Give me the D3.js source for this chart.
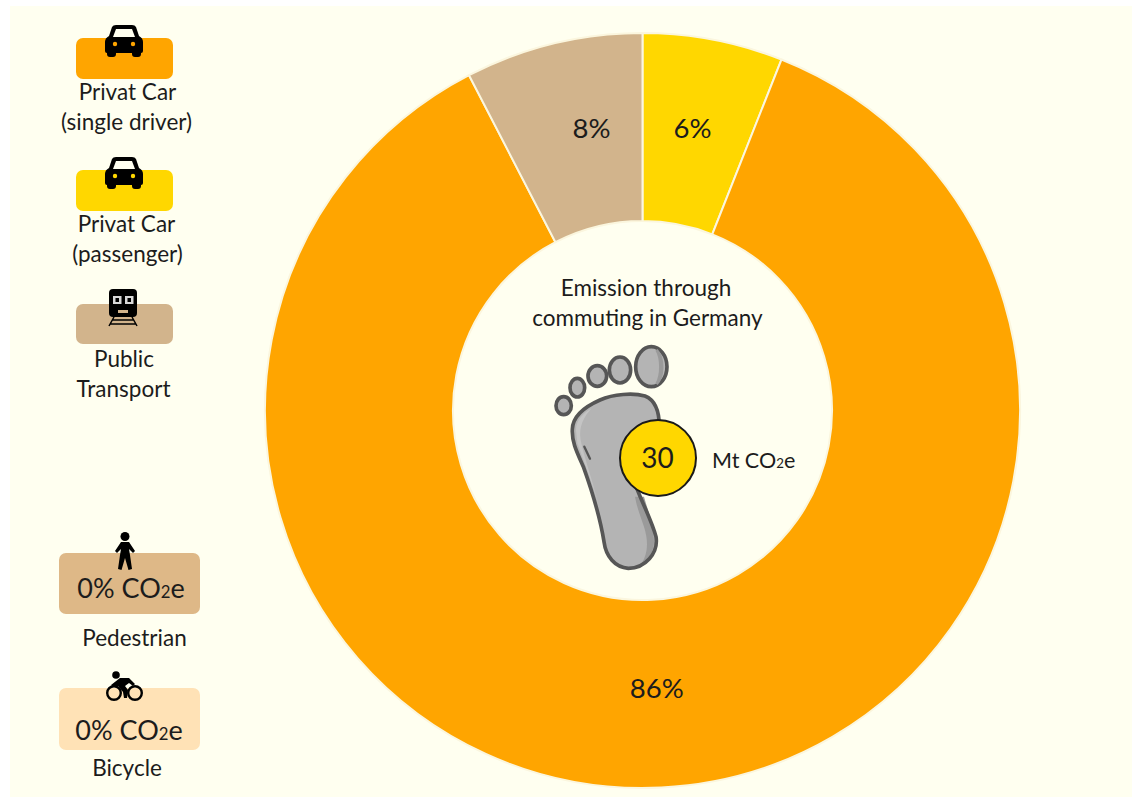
<!DOCTYPE html>
<html><head><meta charset="utf-8">
<script src="https://cdnjs.cloudflare.com/ajax/libs/d3/7.8.5/d3.min.js"></script>
<style>html,body{margin:0;padding:0;background:#fff}svg{display:block}text{font-family:Lato,"Open Sans",sans-serif;fill:#1c1c1c}</style>
</head><body><svg id="c" width="1132" height="797"></svg>
<script>
const segments = ["Privat Car (passenger)", "Privat Car (single driver)", "Public Transport"];
const shares = [6, 86.4, 7.6];
const colors = ["#FFD700", "#FFA500", "#D2B48C"];
const title = ["Emission through", "commuting in Germany"];
const total = 30;
const zeroModes = ["Pedestrian", "Bicycle"];
const zeroShares = [0, 0];

const svg = d3.select("#c");
svg.append("rect").attr("x",10).attr("y",6).attr("width",1122).attr("height",791).attr("fill","#FFFFF0");

// donut
const cx=642.5, cy=410.5, R=377.5, r=189.5;
const g = svg.append("g").attr("transform",`translate(${cx},${cy})`);
const pie = d3.pie().value(d=>d).sort(null);
const arc = d3.arc().innerRadius(r).outerRadius(R);
const arcs = pie(shares);
g.selectAll("path").data(arcs).join("path").attr("d",arc)
  .attr("fill",(d,i)=>colors[i]).attr("stroke","#FBF6DE").attr("stroke-width",2);
const labelNudge = [[-3,-5],[0,-6.5],[16,-8]];
g.selectAll("text").data(arcs).join("text")
  .attr("x",(d,i)=>arc.centroid(d)[0]+labelNudge[i][0])
  .attr("y",(d,i)=>arc.centroid(d)[1]+labelNudge[i][1])
  .attr("text-anchor","middle").attr("dominant-baseline","central")
  .attr("font-size",27.5).text(d=>Math.round(d.data)+"%");

// centre title
svg.append("g").selectAll("text").data(title).join("text")
  .attr("x",(d,i)=>i?647.5:646).attr("y",(d,i)=>296+i*30)
  .attr("text-anchor","middle").attr("font-size",22.5).text(d=>d);

// footprint
const footFill="#B4B4B4", footLine="#565656", footShade="#9A9A9A", footLight="#C4C4C4";
const foot = svg.append("g").attr("transform","translate(520,270) scale(0.3333)");
const toes=[[131,407,23,27],[172,353,22,28],[232,318,28,31],[300,300,32,39],[394,290,47,60]];
foot.selectAll("ellipse").data(toes).join("ellipse")
  .attr("cx",d=>d[0]).attr("cy",d=>d[1]).attr("rx",d=>d[2]).attr("ry",d=>d[3])
  .attr("fill",footFill).attr("stroke",footLine).attr("stroke-width",11);
foot.append("path").attr("d","M410,240 C432,265 432,320 410,342 C425,315 425,265 410,240 Z").attr("fill",footShade).attr("stroke",footShade).attr("stroke-width",8);
const soleD="M157,478 C158,440 190,412 240,390 C280,372 340,368 375,378 C405,390 418,420 418,470 L345,640 C362,690 395,750 408,800 C416,850 375,895 325,895 C285,892 258,860 252,815 C240,740 215,660 190,590 C170,545 155,515 157,478 Z";
foot.append("path").attr("d",soleD).attr("fill",footFill);
foot.append("path").attr("d","M372,680 C385,725 402,770 402,815 C402,845 385,870 365,880 C385,850 385,810 372,770 C360,735 350,710 345,680 Z").attr("fill",footShade);
foot.append("path").attr("d","M168,480 C168,450 190,430 215,415 C192,440 175,470 182,510 C192,560 220,640 240,720 C225,660 190,570 172,520 Z").attr("fill",footLight);
foot.append("path").attr("d",soleD).attr("fill","none").attr("stroke",footLine).attr("stroke-width",11).attr("stroke-linejoin","round");
foot.append("path").attr("d","M193,530 L210,566").attr("stroke",footLine).attr("stroke-width",7).attr("stroke-linecap","round");

svg.append("circle").attr("cx",658).attr("cy",458).attr("r",38)
  .attr("fill","#FFD700").attr("stroke","#1a1a1a").attr("stroke-width",2);
svg.append("text").attr("x",657.5).attr("y",468).attr("text-anchor","middle").attr("font-size",28).text(total);

function co2(sel,prefix,size){
  sel.append("tspan").text(prefix+"CO");
  sel.append("tspan").attr("font-size",size*0.62).text("2");
  sel.append("tspan").text("e");
}
co2(svg.append("text").attr("x",712).attr("y",468).attr("font-size",21.5),"Mt ",21.5);

// legend boxes
const boxes=[[76,38,97,41,colors[1]],[76,170,97,41,colors[0]],[76,304,97,40,colors[2]],[59,553,141,61,"#DEB887"],[59,688,141,62,"#FFE2B6"]];
svg.append("g").selectAll("rect").data(boxes).join("rect")
  .attr("x",d=>d[0]).attr("y",d=>d[1]).attr("width",d=>d[2]).attr("height",d=>d[3])
  .attr("rx",7).attr("fill",d=>d[4]);

// legend text
const legendLines=[["Privat Car",127.5,100],["(single driver)",126.5,130],["Privat Car",126.5,232],["(passenger)",127.5,262],["Public",124,367],["Transport",123.5,397],[zeroModes[0],134.5,646],[zeroModes[1],127,776]];
svg.append("g").selectAll("text").data(legendLines).join("text")
  .attr("x",d=>d[1]).attr("y",d=>d[2]).attr("text-anchor","middle").attr("font-size",22.5).text(d=>d[0]);
co2(svg.append("text").attr("x",131).attr("y",598).attr("text-anchor","middle").attr("font-size",27),zeroShares[0]+"% ",27);
co2(svg.append("text").attr("x",129).attr("y",740).attr("text-anchor","middle").attr("font-size",27),zeroShares[1]+"% ",27);

// car icons
function car(x,y,dot){
  const c=svg.append("g").attr("transform",`translate(${x},${y})`);
  c.append("path").attr("fill","#000").attr("d","M-12,-14 Q-11,-16 -8,-16 L8,-16 Q11,-16 12,-14 L15,-5 Q19,-3 19,1 L19,10 Q19,12 17,12 L17,13 Q17,16 14,16 L11,16 Q8,16 8,13 L8,12 L-8,12 L-8,13 Q-8,16 -11,16 L-14,16 Q-17,16 -17,13 L-17,12 Q-19,12 -19,10 L-19,1 Q-19,-3 -15,-5 Z");
  c.append("path").attr("fill","#FFFFF0").attr("d","M-8,-12 L8,-12 L11,-4 L-11,-4 Z");
  [-9,9].forEach(v=>c.append("circle").attr("cx",v).attr("cy",3).attr("r",2.2).attr("fill",dot));
}
car(124,41,colors[1]); car(124,173,colors[0]);

// train icon
const t=svg.append("g").attr("transform","translate(123,310)");
t.append("rect").attr("x",-14).attr("y",-21).attr("width",28).attr("height",28).attr("rx",4).attr("fill","#000");
[-10,2].forEach(v=>{t.append("rect").attr("x",v).attr("y",-14).attr("width",8.5).attr("height",8).attr("fill","#D9D9D9");
 t.append("rect").attr("x",v+2.5).attr("y",-12).attr("width",3.5).attr("height",4).attr("fill","#000");});
t.append("rect").attr("x",-5).attr("y",0).attr("width",10).attr("height",3).attr("fill","#D2B48C");
t.append("path").attr("d","M-9,7 L-14,16 M9,7 L14,16 M-11,10 L11,10 M-13,14 L13,14").attr("stroke","#000").attr("stroke-width",1.5).attr("fill","none");

// pedestrian icon
const p=svg.append("g").attr("transform","translate(125,551)");
p.append("circle").attr("cx",0).attr("cy",-14.5).attr("r",4.5).attr("fill","#000");
p.append("path").attr("fill","#000").attr("d","M-4,-9 L4,-9 L10,0 L8,2 L4,-2 L5,4 L7,18 L3.5,19 L0,7 L-3.5,19 L-7,18 L-5,4 L-4,-2 L-8,2 L-10,0 Z");

// cyclist icon
const b=svg.append("g").attr("transform","translate(124,687)");
b.selectAll("circle").data([-10,11]).join("circle").attr("cx",d=>d).attr("cy",6).attr("r",6.8).attr("fill","none").attr("stroke","#000").attr("stroke-width",2.4);
b.append("circle").attr("cx",-8).attr("cy",-12).attr("r",3.8).attr("fill","#000");
b.append("path").attr("fill","#000").attr("d","M-13,-2 L-4,-9 L5,-9 L11,-3 L9,-1 L5,-4 L1,-1 L4,3 L3,11 L0,11 L-1,5 L-6,-1 L-11,0 Z");
</script></body></html>
